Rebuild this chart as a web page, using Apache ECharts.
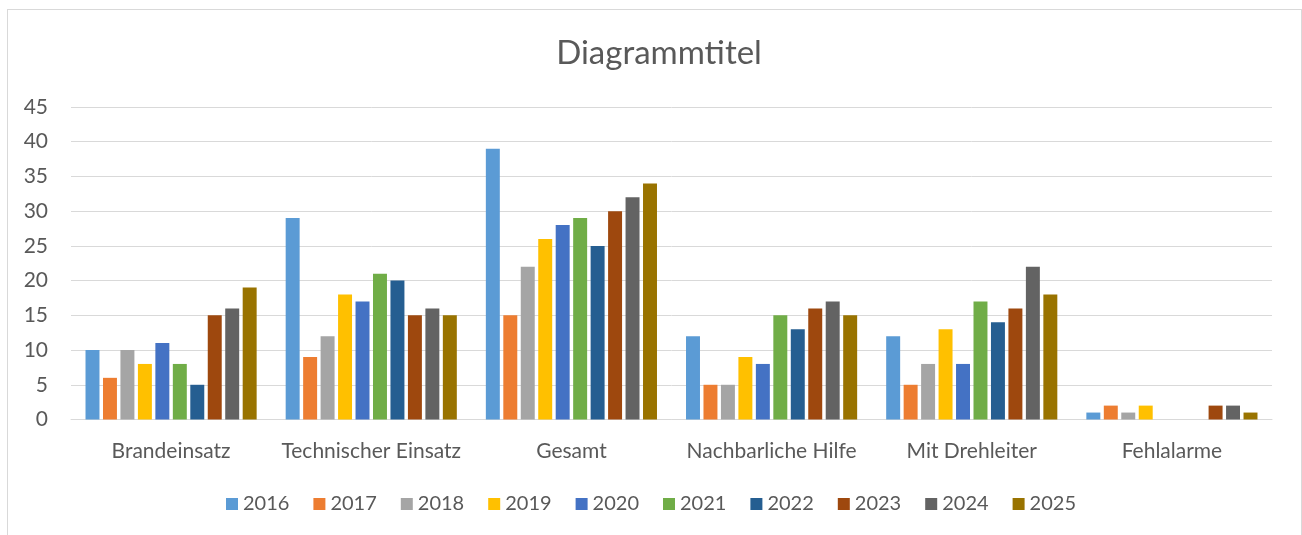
<!DOCTYPE html>
<html><head><meta charset="utf-8">
<script src="https://cdn.jsdelivr.net/npm/echarts@6/dist/echarts.min.js"></script>
<style>
html,body{margin:0;padding:0;background:#fff;}
#frame{position:absolute;left:7px;top:9px;width:1295px;height:540px;border:1px solid #d9d9d9;box-sizing:border-box;}
#c{position:absolute;left:0;top:0;width:1302px;height:535px;}
</style></head>
<body>
<div id="frame"></div>
<div id="c"></div>
<script>
const categories = ["Brandeinsatz","Technischer Einsatz","Gesamt","Nachbarliche Hilfe","Mit Drehleiter","Fehlalarme"];
const years = ["2016","2017","2018","2019","2020","2021","2022","2023","2024","2025"];
const v2016 = [10,29,39,12,12,1];
const v2017 = [6,9,15,5,5,2];
const v2018 = [10,12,22,5,8,1];
const v2019 = [8,18,26,9,13,2];
const v2020 = [11,17,28,8,8,0];
const v2021 = [8,21,29,15,17,0];
const v2022 = [5,20,25,13,14,0];
const v2023 = [15,15,30,16,16,2];
const v2024 = [16,16,32,17,22,2];
const v2025 = [19,15,34,15,18,1];
const yTicks = [0,5,10,15,20,25,30,35,40,45];
const colors = ["#5B9BD5","#ED7D31","#A5A5A5","#FFC000","#4472C4","#70AD47","#255E91","#9E480E","#636363","#997300"];
const values = [v2016,v2017,v2018,v2019,v2020,v2021,v2022,v2023,v2024,v2025];

const FONT = "Lato";
const chart = echarts.init(document.getElementById('c'));
chart.setOption({
  animation:false,
  color: colors,
  title:{text:"Diagrammtitel",left:654,textAlign:'center',top:32,
    textStyle:{fontFamily:FONT,fontSize:33,fontWeight:'normal',color:'#595959'}},
  legend:{top:489,left:'center',itemWidth:12,itemHeight:12,itemGap:24,icon:'rect',
    textStyle:{fontFamily:FONT,fontSize:20,color:'#595959'},
    data: years},
  grid:{left:71,right:30,top:107,bottom:115.5,containLabel:false},
  xAxis:{type:'category',data:categories,
    axisLine:{lineStyle:{color:'#d9d9d9',width:1}},
    axisTick:{show:false},
    axisLabel:{fontFamily:FONT,fontSize:21,color:'#595959',margin:21,interval:0}},
  yAxis:{type:'value',min:0,max:45,interval:5,
    axisLine:{show:false},axisTick:{show:false},
    splitLine:{lineStyle:{color:'#d9d9d9',width:1}},
    axisLabel:{fontFamily:FONT,fontSize:21,color:'#595959',margin:23,
      formatter:(v)=> yTicks.includes(v) ? String(v) : ''}},
  series: years.map((y,i)=>({
    name:y,type:'bar',data:values[i],
    barGap:'25%',barCategoryGap:'14.5%',
    itemStyle:{color:colors[i]}
  }))
});
</script>
</body></html>
